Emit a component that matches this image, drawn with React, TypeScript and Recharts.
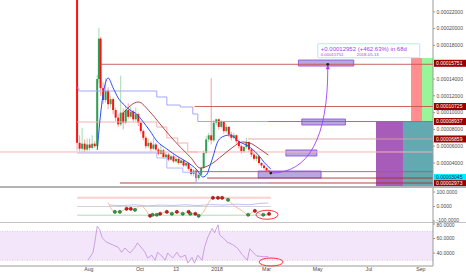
import React from "react";
import {
  ComposedChart,
  Bar,
  Line,
  Scatter,
  XAxis,
  YAxis,
  ReferenceLine,
  ReferenceArea,
  ReferenceDot,
} from "recharts";

// x = days since 2017-08-01, prices in satoshi (1e-8)
const candleDays = [
  -14, -11, -8, -5, -2, 1, 4, 7, 10, 12, 14, 17, 20, 23, 26, 29, 32, 35, 38, 41,
  44, 47, 50, 53, 56, 59, 62, 65, 68, 71, 74, 77, 80, 83, 86, 89, 92, 95, 98, 101,
  104, 107, 110, 113, 116, 119, 122, 125, 128, 131, 134, 137, 140, 143, 146, 149, 152, 155, 158, 161,
  164, 167, 170, 173, 176, 179, 182, 185, 188, 191, 194, 197, 200, 203, 206, 209, 212, 215,
];
const candleOpen = [
  30000, 6400, 5700, 6300, 5600, 6200, 5800, 6300, 6000, 14000, 18800, 12900, 11500, 12600, 11000, 11600, 10300, 9400, 8600, 10000,
  8800, 10300, 9500, 10100, 9200, 9800, 8800, 7800, 7000, 6000, 6400, 5700, 6200, 5600, 5100, 5500, 4700, 5000, 4400, 4800,
  4200, 4500, 4000, 4300, 3700, 4000, 3300, 2700, 3100, 2200, 2600, 3400, 5200, 6800, 7300, 6700, 8800, 9200, 8300, 8900,
  7800, 8300, 7400, 7000, 7300, 6600, 6000, 5400, 5900, 6500, 5600, 5000, 4500, 4800, 4000, 3700, 3400, 3100,
];
const candleHigh = [
  30000, 7300, 8200, 6800, 6900, 6900, 7300, 6600, 14500, 20100, 19000, 13600, 14100, 13000, 12000, 11800, 10600, 9800, 14400, 10500,
  10800, 11100, 10700, 10300, 10600, 10000, 9000, 8000, 7200, 6900, 6600, 7000, 6400, 5800, 6300, 5700, 5300, 5200, 5000, 5000,
  4800, 4700, 4500, 4400, 4200, 4100, 3500, 3300, 3300, 2800, 3600, 5500, 7200, 7600, 14100, 9100, 9300, 9300, 9100, 9000,
  8600, 8400, 7700, 7600, 7400, 6800, 6200, 6100, 7000, 6600, 5700, 5200, 5000, 4900, 4100, 3800, 3500, 3200,
];
const candleLow = [
  5500, 5400, 5300, 5300, 5400, 5500, 5600, 5800, 5800, 13500, 12000, 11000, 11200, 10400, 10600, 9800, 9000, 8300, 8400, 8000,
  8600, 9200, 9300, 8900, 9000, 8400, 7500, 6700, 5700, 5800, 5400, 5500, 5400, 4900, 5000, 4500, 4500, 4200, 4300, 4000,
  4000, 3800, 3800, 3500, 3500, 3100, 2500, 2400, 1700, 2000, 2500, 3300, 5000, 6500, 6200, 6500, 8500, 8000, 8100, 7500,
  7600, 7100, 6700, 6800, 6300, 5700, 5100, 5200, 5700, 5300, 4700, 4300, 4200, 3800, 3400, 3200, 2900, 2800,
];
const candleClose = [
  6400, 5700, 6300, 5600, 6200, 5800, 6300, 6000, 14000, 18800, 12900, 11500, 12600, 11000, 11600, 10300, 9400, 8600, 10000, 8800,
  10300, 9500, 10100, 9200, 9800, 8800, 7800, 7000, 6000, 6400, 5700, 6200, 5600, 5100, 5500, 4700, 5000, 4400, 4800, 4200,
  4500, 4000, 4300, 3700, 4000, 3300, 2700, 3100, 2200, 2600, 3400, 5200, 6800, 7300, 6700, 8800, 9200, 8300, 8900, 7800,
  8300, 7400, 7000, 7300, 6600, 6000, 5400, 5900, 6500, 5600, 5000, 4500, 4800, 4000, 3700, 3400, 3100, 3045,
];

const maFastDays = [10, 16, 23, 29, 35, 41, 49, 57, 64, 73, 81, 93, 105, 117, 129, 136, 141, 144, 148, 153, 159, 168, 180, 190, 201, 212, 217];
const maFastValues = [5550, 11500, 14120, 12930, 11740, 11020, 10310, 9830, 9000, 7810, 6620, 5670, 4830, 4120, 3170, 2330, 2690, 3520, 4710, 6380, 7100, 7330, 6500, 6020, 5070, 3760, 3290];

const maSlowDays = [41, 59, 73, 85, 97, 109, 121, 133, 144, 160, 172, 183, 192, 202, 214];
const maSlowValues = [9950, 11260, 10070, 8640, 7210, 5900, 4710, 3400, 3760, 4950, 5900, 6500, 6380, 5790, 4950];

const upperStepDays = [-14, -12, 81, 93, 109, 124, 130, 214];
const upperStepValues = [12930, 12570, 11860, 10900, 10670, 9830, 8937, 8937];
const lowerStepDays = [-14, 81, 93, 112, 128, 214];
const lowerStepValues = [5190, 4600, 3400, 2900, 1620, 1620];
const pinkStepDays = [-14, 81, 93, 106, 118, 130];
const pinkStepValues = [8880, 8280, 6980, 6380, 5310, 5310];

// horizontal levels: price, first day, colour
const levelPrices = [15751, 10725, 8937, 6859, 2973, 2210, 1620];
const levelStarts = [14, 126, 135, 190, 127, 141, 37];
const levelColors = ["#c65454", "#c65454", "#c65454", "#d9a59e", "#c65454", "#a53030", "#a53030"];
const supportLine = 5310;

const tagPrices = [15751, 10725, 8937, 6859, 3045, 2973];
const tagShift = [-1, 0, 0, 0, 6.5, 12];
const tagFill = ["#990000", "#990000", "#990000", "#990000", "#00f0ff", "#990000"];
const tagText = ["#ffffff", "#ffffff", "#ffffff", "#ffffff", "#10205a", "#ffffff"];

// projection boxes [day1, day2, price1, price2]
const boxDays1 = [250, 254, 235, 202];
const boxDays2 = [316, 306, 272, 277];
const boxLow = [15540, 8520, 4830, 2210];
const boxHigh = [16260, 9240, 5550, 3045];

const startDay = 217;
const startPrice = 2799;
const targetDay = 285;
const targetPrice = 15751;
const noteLine1 = "+0.00012952 (+462.63%) in 68d";
const noteLine2a = "0.00015751";
const noteLine2b = "2018-05-13";

const cciDays = [23, 31, 37, 45, 50, 55, 61, 67, 73, 76, 81, 85, 93, 99, 105, 112, 119, 121, 127, 131, 136, 142, 148, 154, 159, 166, 172, 183, 190, 198, 204, 208, 215];
const cciValues = [26, -37, -37, -16, -16, -23, 5, -16, -64, -57, -57, -50, -37, -50, -37, -50, -37, -50, -50, -64, -43, 19, 60, 60, 60, 46, 12, -30, -57, -30, -50, -57, -50];
const cciSignalDays = [25, 40, 55, 70, 85, 100, 115, 130, 145, 160, 175, 190, 205, 214];
const cciSignalValues = [10, 6, 12, 4, 10, 7, 12, 6, 14, 10, 16, 12, 22, 24];
const redDotDays = [45, 50, 73, 85, 93, 105, 119, 127, 148, 154, 159, 198, 215];
const redDotValues = [-16, -16, -64, -50, -37, -37, -37, -50, 60, 60, 60, -30, -50];
const greenDotDays = [31, 37, 55, 76, 81, 99, 112, 121, 131, 166, 190, 208];
const greenDotValues = [-37, -37, -23, -57, -57, -50, -50, -50, -64, 46, -57, -57];

const rsiDays = [-1, 5, 7, 10, 13, 16, 21, 29, 35, 39, 43, 49, 55, 58, 63, 67, 70, 75, 79, 82, 87, 91, 94, 100, 105, 109, 115, 118, 123, 126, 130, 135, 138, 142, 147, 150, 154, 156, 160, 165, 171, 177, 183, 189, 192, 196, 200, 208, 214];
const rsiValues = [30, 41, 54, 77, 72, 61, 55, 51, 48, 41, 47, 40, 48, 54, 47, 41, 33, 37, 30, 41, 36, 30, 40, 33, 41, 34, 37, 26, 34, 26, 37, 30, 48, 62, 74, 68, 79, 65, 61, 55, 52, 47, 38, 30, 46, 41, 36, 35, 35];

const xTickDays = [0, 61, 104, 153, 212, 273, 334, 396];
const xTickLabels = ["Aug", "Oct", "13", "2018", "Mar", "May", "Jul", "Sep"];
const priceTicks = [4000, 6000, 8000, 10000, 12000, 14000, 18000, 20000, 22000];
const cciTicks = [-100, 0, 100];
const rsiTicks = [40, 60, 80];

const X_DOMAIN: [number, number] = [-106, 410.5];
const W = 466;
const AXIS_W = 33;
const tickStyle = { fontSize: 5, fill: "#4a4a4a" };

const candles = candleDays.map((day, i) => ({
  day,
  range: [candleLow[i], candleHigh[i]],
  o: candleOpen[i],
  h: candleHigh[i],
  l: candleLow[i],
  c: candleClose[i],
}));
const series = (days: number[], values: number[]) => days.map((day, i) => ({ day, v: values[i] }));

const Candle = (props: any) => {
  const { x, y, width, height, payload } = props;
  if (x == null || !payload) return null;
  const top = Math.min(y, y + height);
  const h = Math.abs(height);
  const span = payload.h - payload.l || 1;
  const toY = (v: number) => top + ((payload.h - v) / span) * h;
  const up = payload.c >= payload.o;
  const cx = x + width / 2;
  const b1 = toY(Math.max(payload.o, payload.c));
  const b2 = toY(Math.min(payload.o, payload.c));
  return (
    <g>
      <line x1={cx} x2={cx} y1={top} y2={top + h} stroke={up ? "#8fd39c" : "#f08a8a"} strokeWidth={0.8} />
      <rect x={cx - 1} y={b1} width={2} height={Math.max(0.8, b2 - b1)} fill={up ? "#2f9e55" : "#ff1010"} />
    </g>
  );
};

const ArcArrow = (props: any) => {
  const { x1, y1, x2, y2 } = props;
  if ([x1, y1, x2, y2].some((v) => typeof v !== "number")) return null;
  return (
    <g>
      <path d={`M${x1},${y1} Q${x2},${y1} ${x2},${y2 + 4}`} fill="none" stroke="#a640f2" strokeWidth={0.9} />
      <path d={`M${x2 - 2},${y2 + 5} L${x2 + 2},${y2 + 5} L${x2},${y2} Z`} fill="#a640f2" />
    </g>
  );
};

const BlackDot = (props: any) => <circle cx={props.cx} cy={props.cy} r={1.4} fill="#222" />;

const TargetNote = (props: any) => {
  const { cx, cy } = props;
  if (cx == null) return null;
  return (
    <g>
      <rect x={cx - 10} y={cy - 20.5} width={102} height={14} fill="#ffffff" fillOpacity={0.9} stroke="#a8d8f8" strokeWidth={0.8} rx={1} />
      <text x={cx - 7} y={cy - 13} fontSize={6} fill="#a23cf0">{noteLine1}</text>
      <text x={cx - 7} y={cy - 7.8} fontSize={4.3} fill="#a23cf0">{noteLine2a}</text>
      <text x={cx + 29} y={cy - 7.8} fontSize={4.3} fill="#a23cf0">{noteLine2b}</text>
    </g>
  );
};

const makeTag = (i: number) => (props: any) => {
  const { cx, cy } = props;
  if (cx == null) return null;
  const y = cy + tagShift[i];
  return (
    <g>
      <rect x={cx + 1} y={y - 3.5} width={W - cx - 1} height={7} fill={tagFill[i]} />
      <text x={cx + 3} y={y + 1.8} fontSize={5} fill={tagText[i]}>{(tagPrices[i] / 1e8).toFixed(8)}</text>
    </g>
  );
};

// panel tick with a small vertical nudge so neighbouring panels' labels don't collide
const makePanelTick = (nudgeFor: number, nudge: number) => (props: any) => {
  const { x, y, payload } = props;
  const dy = payload.value === nudgeFor ? nudge : 0;
  return (
    <text x={x} y={y + dy} dy="0.355em" fontSize={5} fill="#4a4a4a" textAnchor="start">
      {Number(payload.value).toFixed(4)}
    </text>
  );
};

const makeEllipse = (rx: number, ry: number) => (props: any) =>
  props.cx == null ? null : <ellipse cx={props.cx} cy={props.cy} rx={rx} ry={ry} fill="none" stroke="#ff2020" strokeWidth={0.9} />;

const makeDot = (fill: string, edge: string) => (props: any) =>
  props.cx == null ? null : <circle cx={props.cx} cy={props.cy} r={1.6} fill={fill} stroke={edge} strokeWidth={0.5} />;

const lineProps = { dataKey: "v", dot: false, activeDot: false, isAnimationActive: false } as const;

const MainChart = () => (
  <ComposedChart width={W} height={187} data={candles} margin={{ top: 0, right: 0, bottom: 0, left: 0 }}>
    <XAxis dataKey="day" type="number" domain={X_DOMAIN} allowDataOverflow hide />
    <YAxis
      orientation="right"
      width={AXIS_W}
      type="number"
      domain={[1143, 23405]}
      allowDataOverflow
      ticks={priceTicks}
      interval={0}
      tick={tickStyle}
      tickSize={2}
      tickMargin={1.5}
      stroke="#9a9a9a"
      tickFormatter={(v: number) => (v / 1e8).toFixed(8)}
    />
    <ReferenceArea x1={342.5} x2={374.7} y1={1143} y2={8937} fill="#a75cb9" fillOpacity={1} stroke="none" ifOverflow="visible" />
    <ReferenceArea x1={374.7} x2={410.5} y1={1143} y2={8937} fill="#62a9b2" fillOpacity={1} stroke="none" ifOverflow="visible" />
    <ReferenceArea x1={384.3} x2={397.4} y1={8937} y2={16500} fill="#ff8f8f" fillOpacity={1} stroke="none" ifOverflow="visible" />
    <ReferenceArea x1={397.4} x2={410.5} y1={8937} y2={16500} fill="#98f598" fillOpacity={1} stroke="none" ifOverflow="visible" />
    <ReferenceLine y={supportLine} stroke="#f7b4b4" strokeWidth={1} ifOverflow="visible" />
    {levelPrices.map((p, i) => (
      <ReferenceLine
        key={`lv${i}`}
        segment={[{ x: levelStarts[i], y: p }, { x: X_DOMAIN[1], y: p }]}
        stroke={levelColors[i]}
        strokeWidth={0.9}
        ifOverflow="visible"
      />
    ))}
    <Line {...lineProps} data={series(upperStepDays, upperStepValues)} type="stepAfter" stroke="#a3a8f8" strokeWidth={1} />
    <Line {...lineProps} data={series(lowerStepDays, lowerStepValues)} type="stepAfter" stroke="#b4b7fa" strokeWidth={1} />
    <Line {...lineProps} data={series(pinkStepDays, pinkStepValues)} type="stepAfter" stroke="#f6b1b1" strokeWidth={1} />
    <Bar dataKey="range" barSize={2} shape={Candle} isAnimationActive={false} />
    <Line {...lineProps} data={series(maSlowDays, maSlowValues)} type="monotone" stroke="#a8323a" strokeWidth={0.9} />
    <Line {...lineProps} data={series(maFastDays, maFastValues)} type="monotone" stroke="#2f4ff5" strokeWidth={1} />
    {boxDays1.map((d, i) => (
      <ReferenceArea
        key={`bx${i}`}
        x1={d}
        x2={boxDays2[i]}
        y1={boxLow[i]}
        y2={boxHigh[i]}
        fill="#9079cc"
        fillOpacity={0.65}
        stroke="#8848e0"
        strokeWidth={0.8}
        ifOverflow="visible"
      />
    ))}
    <ReferenceLine
      segment={[{ x: startDay, y: startPrice }, { x: targetDay, y: targetPrice }]}
      shape={ArcArrow}
      ifOverflow="visible"
    />
    <ReferenceDot x={startDay} y={startPrice} shape={BlackDot} ifOverflow="visible" />
    <ReferenceDot x={targetDay} y={targetPrice} shape={BlackDot} ifOverflow="visible" />
    <ReferenceDot x={targetDay} y={targetPrice} shape={TargetNote} ifOverflow="visible" />
    {tagPrices.map((p, i) => (
      <ReferenceDot key={`tg${i}`} x={X_DOMAIN[1]} y={p} shape={makeTag(i)} ifOverflow="visible" />
    ))}
  </ComposedChart>
);

const CciChart = () => (
  <ComposedChart width={W} height={35} margin={{ top: 0, right: 0, bottom: 0, left: 0 }}>
    <XAxis dataKey="day" type="number" domain={X_DOMAIN} allowDataOverflow hide />
    <YAxis
      orientation="right"
      width={AXIS_W}
      type="number"
      domain={[-113.8, 127.6]}
      allowDataOverflow
      ticks={cciTicks}
      interval={0}
      tick={makePanelTick(-100, -1.2)}
      tickSize={2}
      tickMargin={1.5}
      stroke="#9a9a9a"
    />
    <ReferenceLine segment={[{ x: -14, y: 60 }, { x: 217, y: 60 }]} stroke="#fdd0d0" strokeWidth={2} ifOverflow="visible" />
    <ReferenceLine segment={[{ x: -14, y: 0 }, { x: 217, y: 0 }]} stroke="#c8c8d0" strokeWidth={0.8} ifOverflow="visible" />
    <ReferenceLine segment={[{ x: -14, y: -60 }, { x: 217, y: -60 }]} stroke="#a6d8a6" strokeWidth={0.9} ifOverflow="visible" />
    <Line {...lineProps} data={series(cciSignalDays, cciSignalValues)} type="monotone" stroke="#aab0f6" strokeWidth={0.8} />
    <Line {...lineProps} data={series(cciDays, cciValues)} type="monotone" stroke="#f0b48c" strokeWidth={0.9} />
    <Scatter data={series(redDotDays, redDotValues)} dataKey="v" shape={makeDot("#d81818", "#6a0000")} isAnimationActive={false} />
    <Scatter data={series(greenDotDays, greenDotValues)} dataKey="v" shape={makeDot("#2ea043", "#0f4d1d")} isAnimationActive={false} />
    <ReferenceDot x={212.5} y={-57} shape={makeEllipse(11, 4.5)} ifOverflow="visible" />
  </ComposedChart>
);

const RsiChart = () => (
  <ComposedChart width={W} height={53} margin={{ top: 0, right: 0, bottom: 0, left: 0 }}>
    <XAxis
      dataKey="day"
      type="number"
      domain={X_DOMAIN}
      allowDataOverflow
      ticks={xTickDays}
      interval={0}
      height={9}
      tick={{ fontSize: 5.2, fill: "#4a4a4a" }}
      tickLine={false}
      tickSize={0}
      tickMargin={1}
      stroke="#9a9a9a"
      tickFormatter={(v: number) => xTickLabels[xTickDays.indexOf(v)]}
    />
    <YAxis
      orientation="right"
      width={AXIS_W}
      type="number"
      domain={[22.1, 82.8]}
      allowDataOverflow
      ticks={rsiTicks}
      interval={0}
      tick={makePanelTick(80, 1.5)}
      tickSize={2}
      tickMargin={1.5}
      stroke="#9a9a9a"
    />
    <ReferenceArea y1={30} y2={70} fill="#f3e6fb" fillOpacity={1} stroke="none" ifOverflow="visible" />
    <ReferenceLine y={70} stroke="#c9b8d2" strokeDasharray="1 1.5" strokeWidth={0.7} />
    <ReferenceLine y={30} stroke="#c9b8d2" strokeDasharray="1 1.5" strokeWidth={0.7} />
    <Line {...lineProps} data={series(rsiDays, rsiValues)} type="linear" stroke="#c08ddb" strokeWidth={0.8} />
    <ReferenceDot x={217.3} y={27.6} shape={makeEllipse(12, 4)} ifOverflow="visible" />
  </ComposedChart>
);

export default function App() {
  return (
    <div style={{ position: "relative", width: W, height: 275, background: "#fff", fontFamily: "'Liberation Sans', Arial, sans-serif", overflow: "hidden" }}>
      <style>{"body{margin:0;}"}</style>
      <div style={{ position: "absolute", left: 0, top: 0 }}>
        <MainChart />
      </div>
      <div style={{ position: "absolute", left: 0, top: 186, width: W, height: 1.5, background: "#b4b4b4" }} />
      <div style={{ position: "absolute", left: 0, top: 187.5 }}>
        <CciChart />
      </div>
      <div style={{ position: "absolute", left: 0, top: 221.5, width: W, height: 1, background: "#c4c4c4" }} />
      <div style={{ position: "absolute", left: 0, top: 222 }}>
        <RsiChart />
      </div>
    </div>
  );
}
